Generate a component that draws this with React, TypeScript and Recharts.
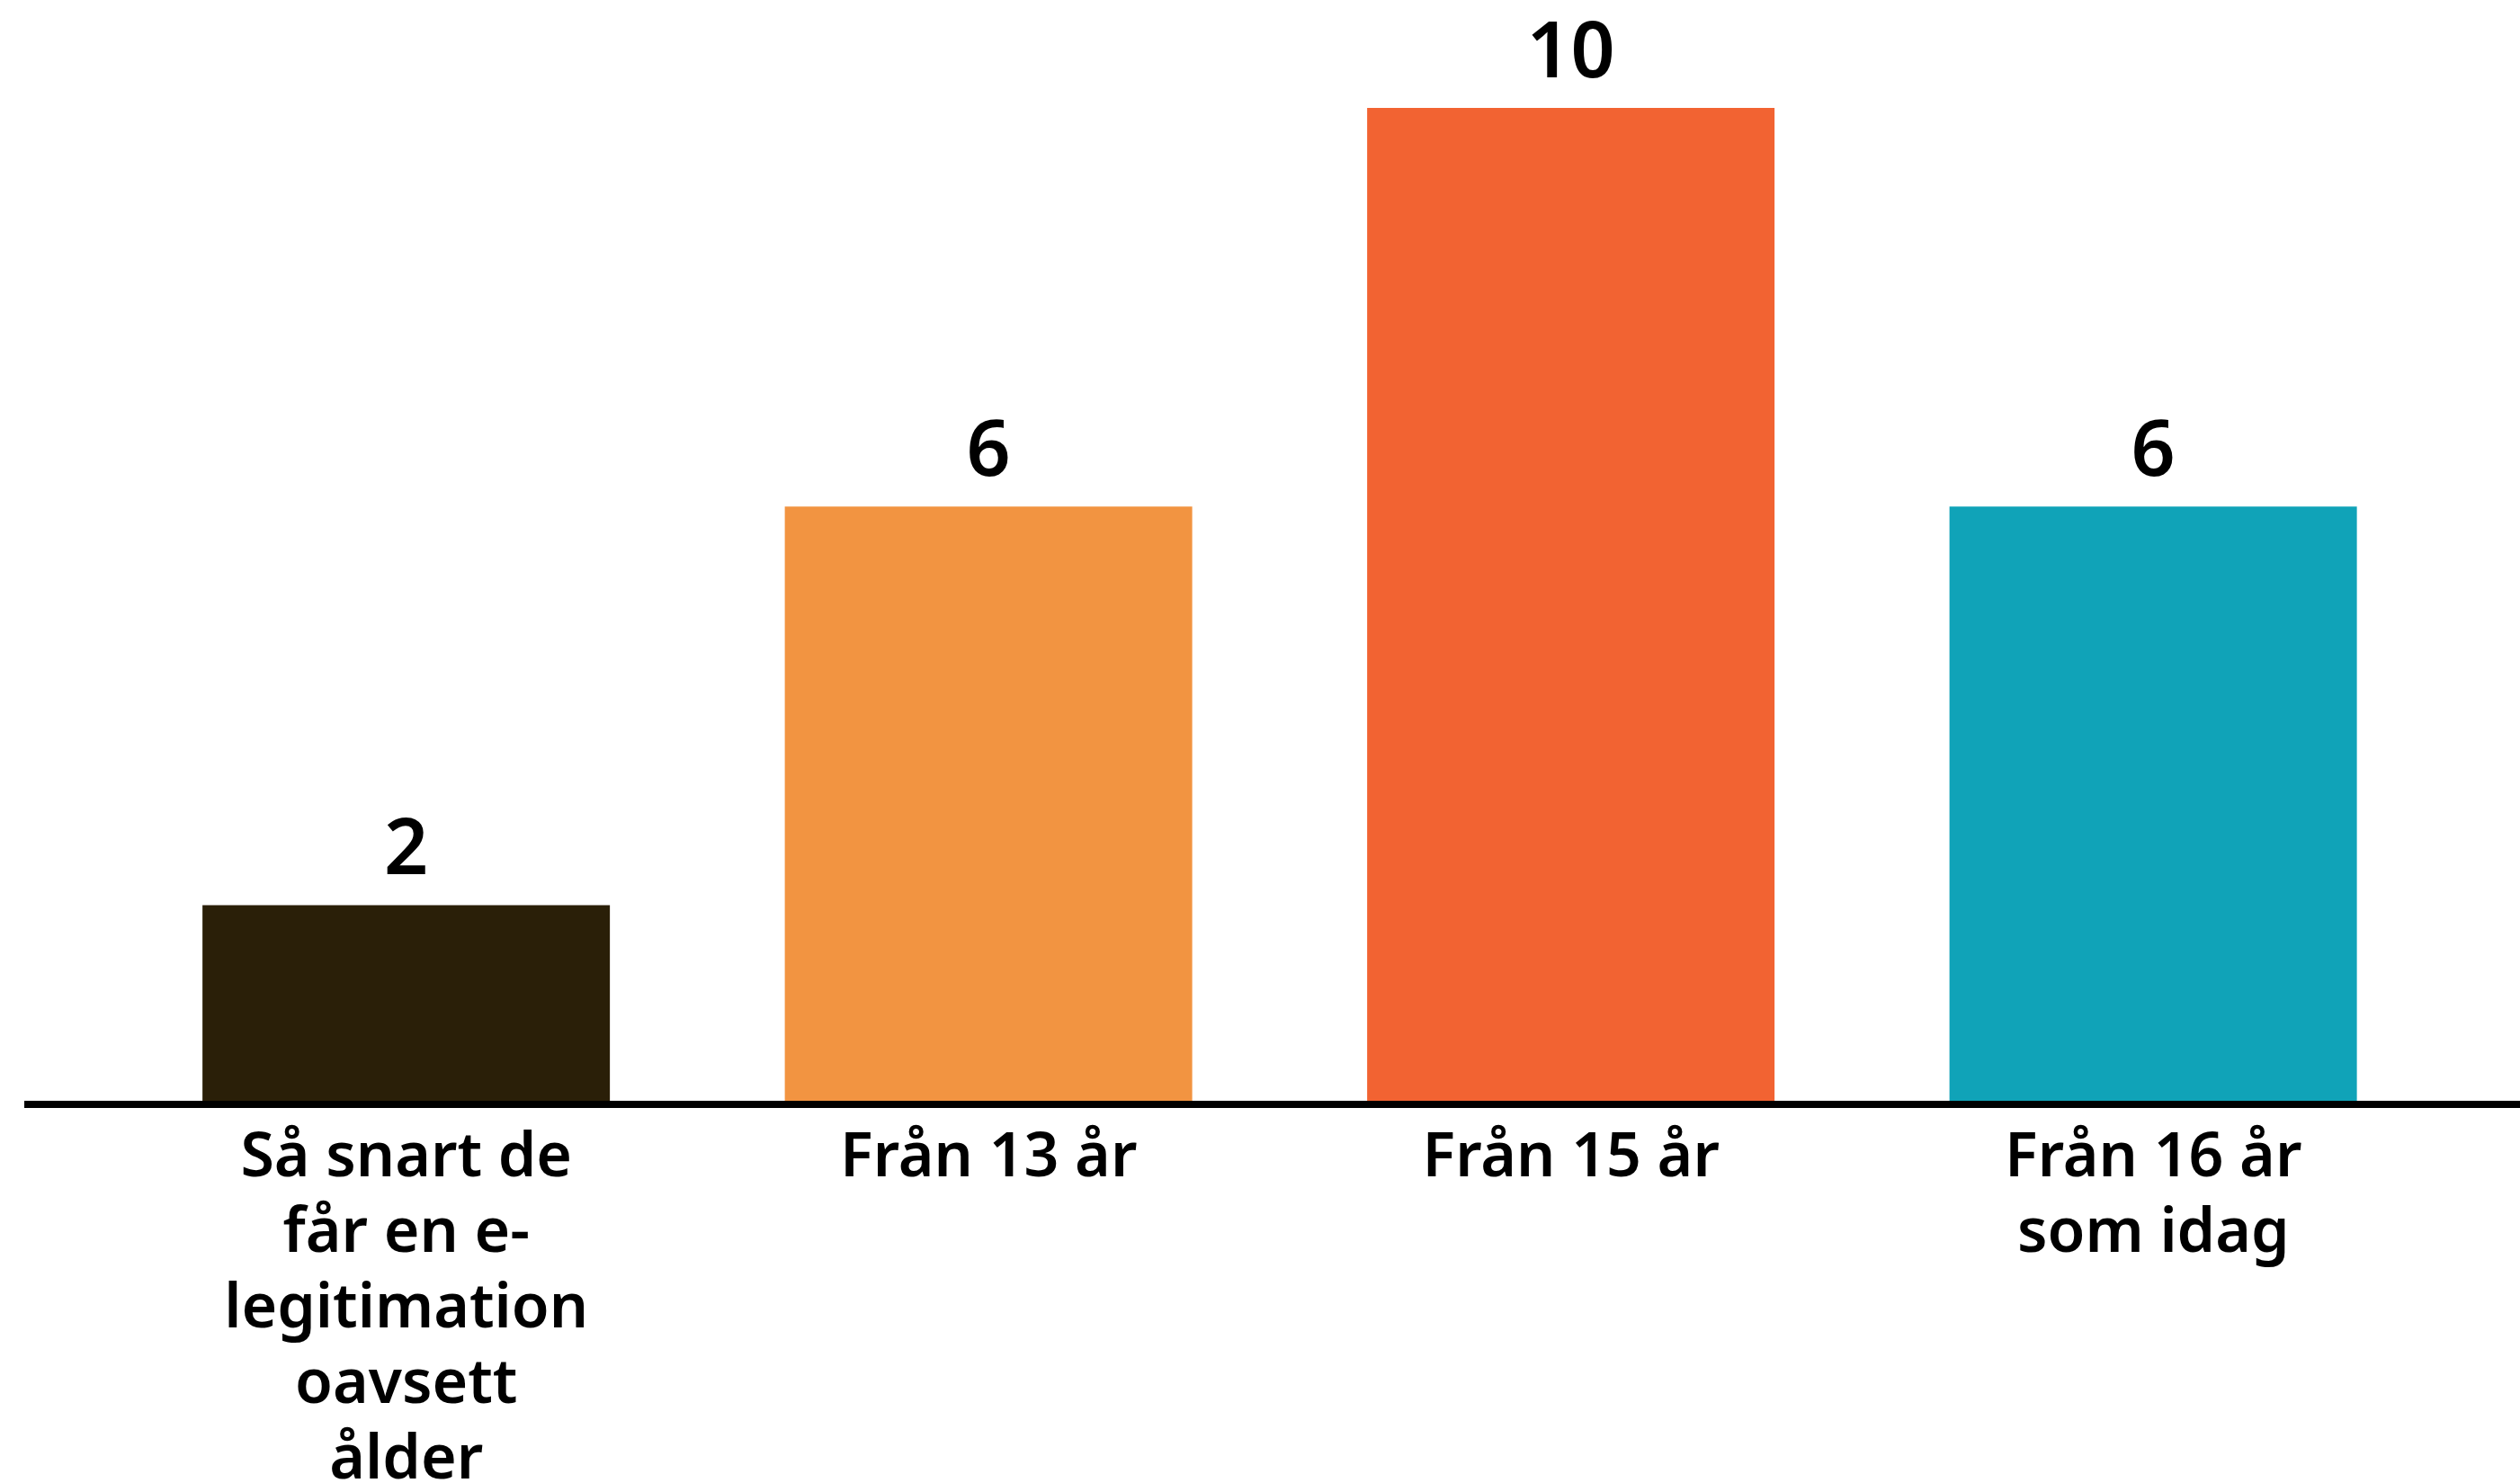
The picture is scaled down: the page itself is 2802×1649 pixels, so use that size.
import { Bar, BarChart, Cell, LabelList, XAxis, YAxis } from "recharts"

const categories = ["Så snart de får en e-legitimation oavsett ålder", "Från 13 år", "Från 15 år", "Från 16 år som idag"]
const tickLines = [
  ["Så snart de", "får en e-", "legitimation", "oavsett", "ålder"],
  ["Från 13 år"],
  ["Från 15 år"],
  ["Från 16 år", "som idag"],
]
const values = [2, 6, 10, 6]
const colors = ["#2a1f08", "#f29441", "#f26332", "#10a3b8"]

const data = categories.map((name, i) => ({ name, value: values[i] }))

const FONT = "'Noto Sans', sans-serif"

function CategoryTick(props: any) {
  const { x, y, index } = props
  const lines = tickLines[index] || []
  return (
    <text x={x} y={y} textAnchor="middle" fill="#000" fontFamily={FONT} fontSize={68} fontWeight={600}>
      {lines.map((line, i) => (
        <tspan key={i} x={x} dy={i === 0 ? 72 : 84}>
          {line}
        </tspan>
      ))}
    </text>
  )
}

export default function App() {
  return (
    <div style={{ position: "absolute", left: 0, top: 0, background: "#fff" }}>
      <BarChart
        width={2802}
        height={1649}
        data={data}
        margin={{ top: 120, right: 0, bottom: 0, left: 27 }}
        barCategoryGap="15%"
      >
        <XAxis
          dataKey="name"
          interval={0}
          height={421}
          padding={{ left: 101, right: 84 }}
          axisLine={{ stroke: "#000", strokeWidth: 8 }}
          tickLine={false}
          tick={<CategoryTick />}
        />
        <YAxis hide domain={[0, 10]} />
        <Bar dataKey="value" isAnimationActive={false}>
          {data.map((d, i) => (
            <Cell key={d.name} fill={colors[i]} />
          ))}
          <LabelList
            dataKey="value"
            position="top"
            offset={34}
            fill="#000"
            fontFamily={FONT}
            fontSize={86}
            fontWeight={600}
          />
        </Bar>
      </BarChart>
    </div>
  )
}
